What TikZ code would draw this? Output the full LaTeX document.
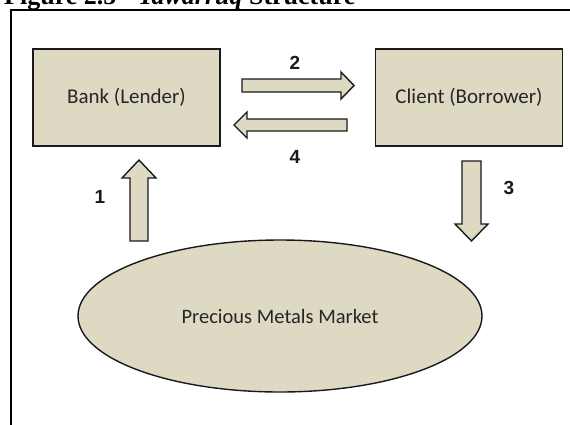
\documentclass[tikz,border=0pt]{standalone}
\usepackage{fontspec}
\setmainfont{Liberation Serif}
\newfontfamily\bodyfont{Carlito}
\newfontfamily\numfont{Liberation Sans}
\usetikzlibrary{shapes.geometric}
\definecolor{tan}{HTML}{DDD9C3}
\definecolor{ink}{HTML}{1A1A1A}
\definecolor{txt}{HTML}{262626}

% block arrow: start point, direction angle, length, head length, shaft half-width, head half-width
\newcommand\flowarrow[6]{%
  \draw[blockarrow, shift={(#1)}, rotate=#2]
    (0,-#5) -- ({#3-#4},-#5) -- ({#3-#4},-#6) -- (#3,0)
    -- ({#3-#4},#6) -- ({#3-#4},#5) -- (0,#5) -- cycle;}

\begin{document}
\begin{tikzpicture}[x=1pt,y=1pt,
  party/.style={draw=ink, line width=1.6pt, fill=tan, rectangle,
    minimum width=187pt, minimum height=97pt, inner sep=0pt,
    font=\bodyfont\fontsize{21}{24}\selectfont, text=txt},
  market/.style={draw=ink, line width=1.4pt, fill=tan, ellipse,
    minimum width=404pt, minimum height=152pt, inner sep=0pt,
    font=\bodyfont\fontsize{20.5}{24}\selectfont, text=txt},
  blockarrow/.style={draw=ink, line width=1.4pt, fill=tan, line join=miter},
  steplabel/.style={font=\numfont\bfseries\fontsize{19}{22}\selectfont, text=ink, inner sep=0pt}]
  \useasboundingbox (0,0) rectangle (570,-424);
  \fill[white] (0,0) rectangle (570,-424);

  % caption, cut by the top edge
  \node[anchor=base west, inner sep=0pt, font=\bfseries\fontsize{26}{30}\selectfont]
    (caption) at (4,-4) {Figure 2.5 - \textit{Tawarruq} Structure};

  % frame around the diagram
  \draw[line width=2pt, black] (11,-440) -- (11,-10) -- (590,-10);

  % parties
  \node[party] (bank)   at (126.5,-97.5) {Bank (Lender)};
  \node[party] (client) at (469,-97.5)   {Client (Borrower)};
  \node[market] (market) at (280,-316)   {Precious Metals Market};

  % flows
  \flowarrow{242,-85.5}{0}{112}{13}{6.5}{13.5}
  \flowarrow{347,-125}{180}{113}{13}{6}{13}
  \flowarrow{139,-241}{90}{81}{18}{9}{17}
  \flowarrow{471.5,-161}{-90}{80}{17}{9.5}{16.5}

  % step numbers
  \node[steplabel] (s1) at (100,-197) {1};
  \node[steplabel] (s2) at (295,-63)  {2};
  \node[steplabel] (s3) at (509,-188) {3};
  \node[steplabel] (s4) at (295,-157) {4};
\end{tikzpicture}
\end{document}
